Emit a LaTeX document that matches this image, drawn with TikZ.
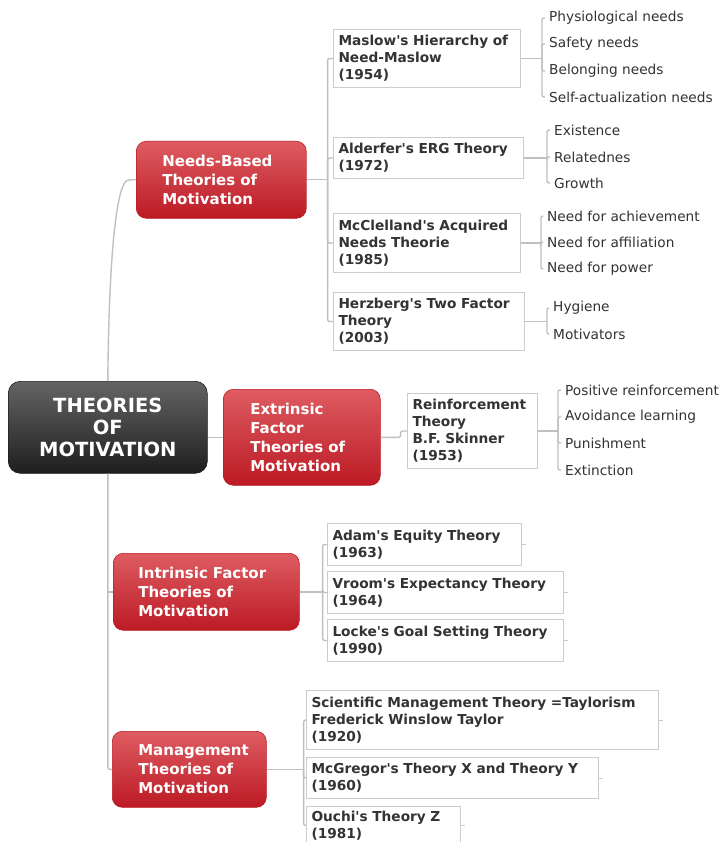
\documentclass[tikz,border=0pt]{standalone}
\usepackage{fontspec}
\setmainfont{DejaVu Sans}[Ligatures=TeXOff]
\definecolor{linkgray}{RGB}{192,192,192}
\definecolor{boxgray}{RGB}{204,204,204}
\definecolor{txt}{RGB}{51,51,51}
\definecolor{redtop}{RGB}{222,92,98}
\definecolor{redmid}{RGB}{205,42,50}
\definecolor{redbot}{RGB}{188,26,36}
\definecolor{ctop}{RGB}{100,100,100}
\definecolor{cmid}{RGB}{55,55,55}
\definecolor{cbot}{RGB}{30,30,30}
\tikzset{
  link/.style={draw=linkgray, line width=1.4pt, rounded corners=2pt},
  tbox/.style={draw=boxgray, line width=1pt, fill=white, anchor=north west,
    inner xsep=5pt, inner ysep=0pt, align=left, text=txt,
    font=\bfseries\fontsize{13.7}{17}\selectfont},
  leaf/.style={anchor=west, inner sep=1pt, text=txt, font=\fontsize{13.7}{15}\selectfont},
  redbox/.style={rounded corners=10pt, top color=redtop, middle color=redmid, bottom color=redbot,
    draw=redbot, line width=0.6pt, anchor=north west, inner xsep=0pt, inner ysep=0pt,
    text=white, align=left, font=\bfseries\fontsize{15}{19}\selectfont},
  cbox/.style={rounded corners=12pt, top color=ctop, middle color=cmid, bottom color=cbot,
    draw=cbot, line width=0.6pt, anchor=north west, inner sep=0pt,
    text=white, align=center, font=\bfseries\fontsize{19.5}{22}\selectfont},
}
\begin{document}
\begin{tikzpicture}[x=1pt,y=-1pt]
\clip (0,0) rectangle (724,842);
\fill[white] (0,0) rectangle (724,842);

% central node
\node[cbox, minimum width=199pt, minimum height=92pt] (c) at (8,381) {THEORIES\\OF\\MOTIVATION};

% red nodes
\node[redbox, minimum width=170pt, minimum height=77pt, text width=118pt] (nb) at (136,141)
  {\mbox{Needs-Based}\\\mbox{Theories of}\\\mbox{Motivation}};
\node[redbox, minimum width=157pt, minimum height=96pt, text width=103pt] (ex) at (223,389)
  {\mbox{Extrinsic}\\\mbox{Factor}\\\mbox{Theories of}\\\mbox{Motivation}};
\node[redbox, minimum width=186pt, minimum height=77pt, text width=136pt] (in) at (113,553)
  {\mbox{Intrinsic Factor}\\\mbox{Theories of}\\\mbox{Motivation}};
\node[redbox, minimum width=154pt, minimum height=76pt, text width=102pt] (mg) at (112,731)
  {\mbox{Management}\\\mbox{Theories of}\\\mbox{Motivation}};

% theory boxes
\node[tbox, text width=177pt, minimum height=58pt] (ms) at (333,29) {Maslow's Hierarchy of\\Need-Maslow\\(1954)};
\node[tbox, text width=180pt, minimum height=41pt] (erg) at (333,137) {Alderfer's ERG Theory\\(1972)};
\node[tbox, text width=177pt, minimum height=59pt] (mc) at (333,213) {McClelland's Acquired\\Needs Theorie\\(1985)};
\node[tbox, text width=181pt, minimum height=58pt] (hz) at (333,292) {Herzberg's Two Factor\\Theory\\(2003)};
\node[tbox, text width=120pt, minimum height=75pt] (rf) at (407,393) {Reinforcement\\Theory\\B.F. Skinner\\(1953)};
\node[tbox, text width=184pt, minimum height=42pt] (ad) at (327,523) {Adam's Equity Theory\\(1963)};
\node[tbox, text width=226pt, minimum height=42pt] (vr) at (327,571) {Vroom's Expectancy Theory\\(1964)};
\node[tbox, text width=226pt, minimum height=42pt] (lk) at (327,619) {Locke's Goal Setting Theory\\(1990)};
\node[tbox, text width=342pt, minimum height=59pt] (sc) at (306,690) {Scientific Management Theory =Taylorism\\Frederick Winslow Taylor\\(1920)};
\node[tbox, text width=282pt, minimum height=41pt] (mcg) at (306,757) {McGregor's Theory X and Theory Y\\(1960)};
\node[tbox, text width=144pt, minimum height=38pt] (ou) at (306,806) {Ouchi's Theory Z\\(1981)};

% leaves
\node[leaf] (l1) at (548,18) {Physiological needs};
\node[leaf] (l2) at (548,44) {Safety needs};
\node[leaf] (l3) at (548,71) {Belonging needs};
\node[leaf] (l4) at (548,97) {Self-actualization needs};
\node[leaf] (e1) at (553,130) {Existence};
\node[leaf] (e2) at (553,157) {Relatednes};
\node[leaf] (e3) at (553,183) {Growth};
\node[leaf] (n1) at (546,216) {Need for achievement};
\node[leaf] (n2) at (546,242) {Need for affiliation};
\node[leaf] (n3) at (546,269) {Need for power};
\node[leaf] (h1) at (552,308) {Hygiene};
\node[leaf] (h2) at (552,334) {Motivators};
\node[leaf] (r1) at (564,390) {Positive reinforcement};
\node[leaf] (r2) at (564,417) {Avoidance learning};
\node[leaf] (r3) at (564,443) {Punishment};
\node[leaf] (r4) at (564,470) {Extinction};

% trunk
\draw[link] (c.north) .. controls (109,250) and (117,182) .. ([xshift=-6pt]nb.west) -- (nb.west);
\draw[link] (c.south) |- (mg.west);
\draw[link] (c.south |- in.west) -- (in.west);
\draw[link] (c.east |- ex.west) -- (ex.west);

% needs-based branches
\draw[link] (nb.east) -- ++(21,0) coordinate (nbj);
\draw[link] (nbj) |- (ms.west);
\draw[link] (nbj) |- (erg.west);
\draw[link] (nbj) |- (mc.west);
\draw[link] (nbj) |- (hz.west);

% extrinsic branch
\draw[link] (ex.east) -- ++(20,0) |- (rf.west);

% intrinsic branches
\draw[link] (in.east) -- ++(23,0) coordinate (inj);
\draw[link] (inj) |- (ad.west);
\draw[link] (inj) |- (vr.west);
\draw[link] (inj) |- (lk.west);

% management branches
\draw[link] (mg.east) -- ++(37,0) coordinate (mgj);
\draw[link] (mgj) |- (sc.west);
\draw[link] (mgj) |- (mcg.west);
\draw[link] (mgj) |- (ou.west);

% leaf brackets
\draw[link] (ms.east) -- ++(21,0) coordinate (msj);
\foreach \l in {l1,l2,l3,l4} \draw[link] (msj) |- ([xshift=-3pt]\l.west);
\draw[link] (erg.east) -- ++(23,0) coordinate (ergj);
\foreach \l in {e1,e2,e3} \draw[link] (ergj) |- ([xshift=-3pt]\l.west);
\draw[link] (mc.east) -- ++(20,0) coordinate (mcj);
\foreach \l in {n1,n2,n3} \draw[link] (mcj) |- ([xshift=-3pt]\l.west);
\draw[link] (hz.east) -- ++(22,0) coordinate (hzj);
\foreach \l in {h1,h2} \draw[link] (hzj) |- ([xshift=-3pt]\l.west);
\draw[link] (rf.east) -- ++(20,0) coordinate (rfj);
\foreach \l in {r1,r2,r3,r4} \draw[link] (rfj) |- ([xshift=-3pt]\l.west);

% collapsed stubs
\foreach \b in {ad,vr,lk,sc,mcg,ou} \draw[draw=boxgray, line width=1pt] (\b.east) -- ++(4,0);
\end{tikzpicture}
\end{document}
